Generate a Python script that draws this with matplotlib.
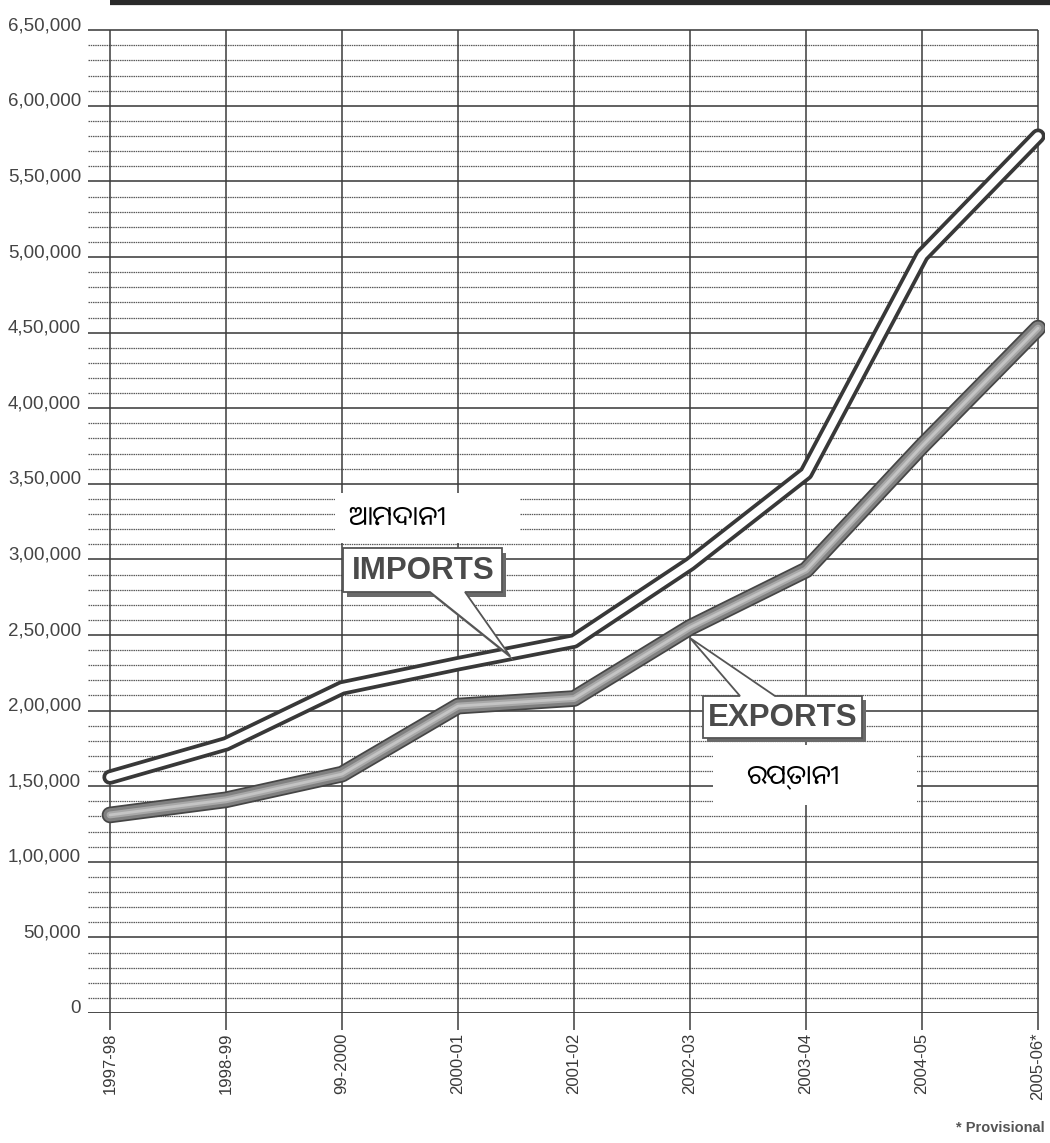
import matplotlib
matplotlib.use('Agg')
import matplotlib.pyplot as plt
from matplotlib.patches import Polygon, Rectangle

# Data (Rs. crore)
years = ['1997-98', '1998-99', '99-2000', '2000-01', '2001-02',
         '2002-03', '2003-04', '2004-05', '2005-06*']
imports = [156000, 178000, 215000, 231000, 246000, 297000, 357000, 501000, 580000]
exports = [131000, 141000, 158000, 203000, 208000, 255000, 293000, 375000, 453000]
major_ticks = list(range(0, 650001, 50000))
minor_ticks = [v for v in range(10000, 650000, 10000) if v % 50000 != 0]

W, H = 1050, 1143
fig = plt.figure(figsize=(W / 100, H / 100), dpi=100)
fig.patch.set_facecolor('white')


def fx(x):
    return x / W


def fy(y):
    return 1 - y / H


# axes: index 0 at px 110, spacing 116 px; value 0 at px 1013
ax = fig.add_axes([fx(88), fy(1013), fx(1045 - 88), (1013) / H])
ax.set_xlim(-22 / 116, 8 + 7 / 116)
ax.set_ylim(0, 670000)
for s in ax.spines.values():
    s.set_visible(False)


def indian(n):
    s = str(n)
    if len(s) <= 3:
        return s
    head, tail = s[:-3], s[-3:]
    parts = []
    while len(head) > 2:
        parts.insert(0, head[-2:])
        head = head[:-2]
    if head:
        parts.insert(0, head)
    return ','.join(parts + [tail])


n = len(years)
xs = list(range(n))

# grid
ax.hlines(minor_ticks, -22 / 116, n - 1, colors='#5a5a5a', linewidth=0.9,
          linestyles=(0, (1.2, 0.6)), zorder=1)
ax.hlines(major_ticks[1:], -22 / 116, n - 1, colors='#454545', linewidth=1.2, zorder=1)
ax.hlines([0], -40 / 116, n - 1, colors='#3a3a3a', linewidth=1.3, zorder=1)
ax.vlines(xs, -11000, 650000, colors='#3c3c3c', linewidth=1.1, zorder=1, clip_on=False)

# heavy rule at the top
ax.plot([0, n - 1 + 0.1], [668500, 668500], color='#2a2a2a', linewidth=4.5,
        solid_capstyle='butt', clip_on=False, zorder=2)

# y labels
for v in major_ticks:
    ax.text(-29 / 116, v, indian(v), ha='right', va='baseline', fontsize=13.5,
            color='#444444', family=['Liberation Sans', 'DejaVu Sans'], clip_on=False)

ax.set_yticks([])
ax.set_xticks(xs)
ax.set_xticklabels(years, rotation=90, va='top', ha='center', fontsize=12,
                   color='#3a3a3a', family=['Liberation Sans Narrow', 'Liberation Sans'])
ax.tick_params(axis='x', length=0, pad=14)

# imports line: dark outline with white core
ax.plot(xs, imports, color='#383838', linewidth=11, solid_capstyle='round',
        solid_joinstyle='round', zorder=4)
ax.plot(xs, imports, color='white', linewidth=5.6, solid_capstyle='round',
        solid_joinstyle='round', zorder=5)

# exports line: shaded grey tube
ax.plot(xs, exports, color='#454545', linewidth=12, solid_capstyle='round',
        solid_joinstyle='round', zorder=4)
ax.plot(xs, exports, color='#808080', linewidth=9.5, solid_capstyle='round',
        solid_joinstyle='round', zorder=5)
ax.plot(xs, exports, color='#a8a8a8', linewidth=5, solid_capstyle='round',
        solid_joinstyle='round', zorder=6)
ax.plot(xs, exports, color='#c4c4c4', linewidth=2, solid_capstyle='round',
        solid_joinstyle='round', zorder=6)


def callout(pts, dx, dy):
    shadow = Polygon([(fx(x + dx), fy(y + dy)) for x, y in pts], closed=True,
                     transform=fig.transFigure, facecolor='#6a6a6a',
                     edgecolor='none', zorder=7)
    box = Polygon([(fx(x), fy(y)) for x, y in pts], closed=True,
                  transform=fig.transFigure, facecolor='white',
                  edgecolor='#555555', linewidth=1.3, zorder=8)
    fig.add_artist(shadow)
    fig.add_artist(box)


# IMPORTS callout
callout([(343, 548), (502, 548), (502, 592), (465, 592), (510, 656),
         (430, 592), (343, 592)], 4, 5)
fig.text(fx(423), fy(571), 'IMPORTS', ha='center', va='center', fontsize=22.5,
         fontweight='bold', color='#4a4a4a', family=['Liberation Sans', 'DejaVu Sans'],
         zorder=9)

# EXPORTS callout
callout([(703, 696), (740, 696), (690, 638), (775, 696), (862, 696),
         (862, 738), (703, 738)], 4, 4)
fig.text(fx(783), fy(718), 'EXPORTS', ha='center', va='center', fontsize=22.5,
         fontweight='bold', color='#4a4a4a', family=['Liberation Sans', 'DejaVu Sans'],
         zorder=9)

# Odia labels on white patches
odia_fonts = ['Noto Sans Oriya', 'Noto Sans Odia', 'Lohit Odia', 'Noto Sans', 'DejaVu Sans']
fig.add_artist(Rectangle((fx(335), fy(543)), fx(520 - 335), (543 - 493) / H,
                         transform=fig.transFigure, facecolor='white',
                         edgecolor='none', zorder=7))
fig.text(fx(348), fy(518), 'ଆମଦାନୀ', ha='left', va='center', fontsize=19.5,
         color='black', family=odia_fonts, zorder=9)
fig.add_artist(Rectangle((fx(713), fy(805)), fx(917 - 713), (805 - 745) / H,
                         transform=fig.transFigure, facecolor='white',
                         edgecolor='none', zorder=7))
fig.text(fx(746), fy(776), 'ରପ୍ତାନୀ', ha='left', va='center', fontsize=19.5,
         color='black', family=odia_fonts, zorder=9)

fig.text(fx(1045), fy(1128), '* Provisional', ha='right', va='center', fontsize=10.5,
         fontweight='bold', color='#555555', family=['Liberation Sans', 'DejaVu Sans'])

fig.savefig('out.png', dpi=100, facecolor='white')
